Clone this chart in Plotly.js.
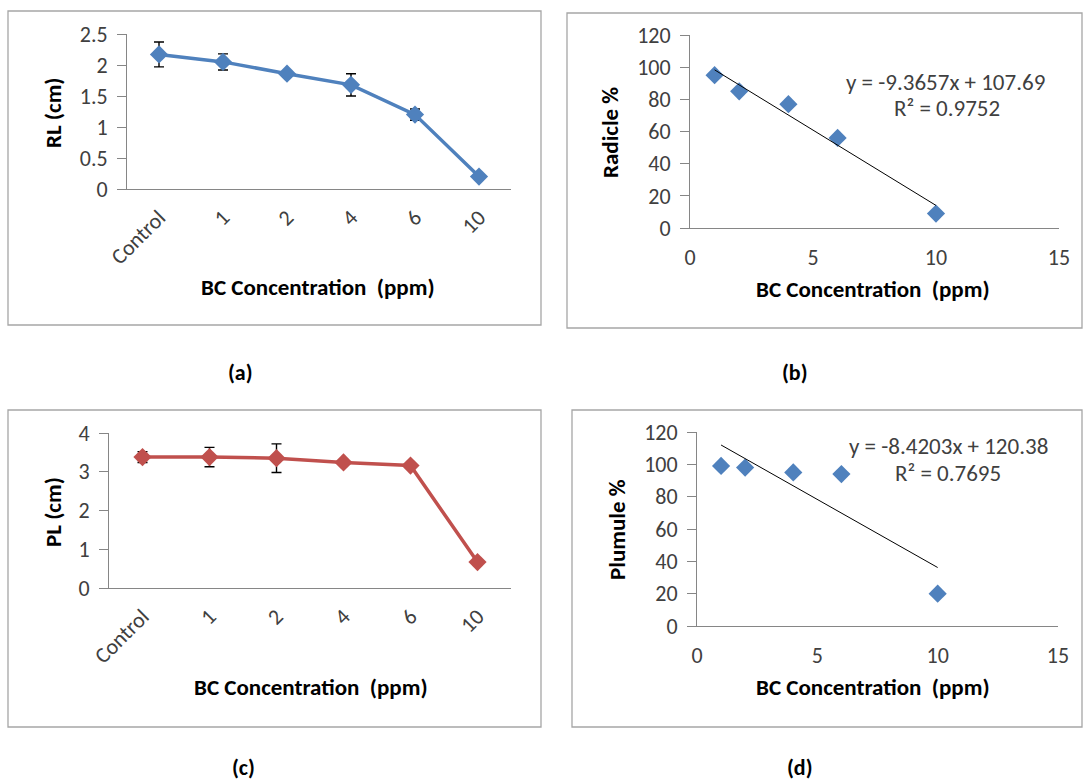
<!DOCTYPE html>
<html>
<head>
<meta charset="utf-8">
<script src="https://cdn.plot.ly/plotly-3.0.1.min.js"></script>
<style>
  html, body { margin: 0; padding: 0; background: #ffffff; }
  #chart { width: 1084px; height: 781px; }
</style>
</head>
<body>
<div id="chart"></div>
<script>
// ---------- data ----------
const categories = ["Control", "1", "2", "4", "6", "10"];
const rlValues = [2.17, 2.05, 1.86, 1.68, 1.20, 0.20];
const rlErrors = [0.20, 0.13, 0.05, 0.18, 0.09, 0.03];
const plValues = [3.38, 3.38, 3.35, 3.24, 3.16, 0.67];
const plErrors = [0.14, 0.25, 0.37, 0.03, 0.05, 0.02];

const concentrations = [1, 2, 4, 6, 10];
const radiclePct = [95, 85, 77, 56, 9];
const plumulePct = [99, 98, 95, 94, 20];

// trendline coefficients as printed on the chart
const radicleSlope = -9.3657, radicleIntercept = 107.69, radicleR2 = "0.9752";
const plumuleSlope = -8.4203, plumuleIntercept = 120.38, plumuleR2 = "0.7695";

const xTitle = "BC Concentration  (ppm)";

// ---------- helpers ----------
const W = 1084, H = 781;
const px = x => x / W;
const py = y => 1 - y / H;
const FONT = "Carlito, Lato, 'Open Sans', sans-serif";
const TXT = "#404040";
const AXC = "#868686";
const BLUE = "#4F81BD";
const RED = "#C0504D";

function trendX(xs) { return [Math.min(...xs), Math.max(...xs)]; }
function trendY(xs, m, b) { return trendX(xs).map(x => m * x + b); }

const MS = 14;
const traces = [
  {
    type: "scatter", mode: "lines+markers", x: categories, y: rlValues,
    xaxis: "x", yaxis: "y",
    line: { color: BLUE, width: 3.5 },
    marker: { symbol: "diamond", size: MS, color: BLUE },
    error_y: { type: "data", array: rlErrors, visible: true, color: "#000000", thickness: 1.4, width: 5 }
  },
  {
    type: "scatter", mode: "markers", x: concentrations, y: radiclePct,
    xaxis: "x2", yaxis: "y2",
    marker: { symbol: "diamond", size: MS, color: BLUE }
  },
  {
    type: "scatter", mode: "lines", x: trendX(concentrations),
    y: trendY(concentrations, radicleSlope, radicleIntercept),
    xaxis: "x2", yaxis: "y2",
    line: { color: "#000000", width: 1 }
  },
  {
    type: "scatter", mode: "lines+markers", x: categories, y: plValues,
    xaxis: "x3", yaxis: "y3",
    line: { color: RED, width: 3.5 },
    marker: { symbol: "diamond", size: MS, color: RED },
    error_y: { type: "data", array: plErrors, visible: true, color: "#000000", thickness: 1.4, width: 5 }
  },
  {
    type: "scatter", mode: "markers", x: concentrations, y: plumulePct,
    xaxis: "x4", yaxis: "y4",
    marker: { symbol: "diamond", size: MS, color: BLUE }
  },
  {
    type: "scatter", mode: "lines", x: trendX(concentrations),
    y: trendY(concentrations, plumuleSlope, plumuleIntercept),
    xaxis: "x4", yaxis: "y4",
    line: { color: "#000000", width: 1 }
  }
];

const tickFont = { family: FONT, size: 22, color: TXT };
const eqFont = { family: FONT, size: 23, color: TXT };

function catAxis(domain, anchor) {
  return {
    domain: domain, anchor: anchor, type: "category", range: [-0.5, 5.5],
    showline: true, linecolor: AXC, linewidth: 1, showgrid: false, zeroline: false,
    ticks: "", tickangle: -45, tickfont: tickFont, ticklabelstandoff: 6, fixedrange: true
  };
}
function numXAxis(domain, anchor) {
  return {
    domain: domain, anchor: anchor, range: [0, 15], dtick: 5, tick0: 0,
    showline: true, linecolor: AXC, linewidth: 1, showgrid: false, zeroline: false,
    ticks: "", tickfont: tickFont, ticklabelstandoff: 10, fixedrange: true
  };
}
function yAxis(domain, anchor, range, dtick) {
  return {
    domain: domain, anchor: anchor, range: range, dtick: dtick, tick0: 0,
    showline: true, linecolor: AXC, linewidth: 1, showgrid: false, zeroline: false,
    ticks: "outside", ticklen: 9, tickcolor: AXC, tickfont: tickFont,
    ticklabelstandoff: 5, fixedrange: true
  };
}

const frames = [
  [8, 11, 541, 325], [567, 13, 1082, 328],
  [8, 410, 541, 727], [572, 410, 1082, 727]
].map(r => ({
  type: "rect", xref: "paper", yref: "paper",
  x0: px(r[0]), x1: px(r[2]), y0: py(r[3]), y1: py(r[1]),
  line: { color: "#A6A6A6", width: 1.3 }, fillcolor: "rgba(0,0,0,0)"
}));

function ann(text, x, y, opts) {
  return Object.assign({
    text: text, xref: "paper", yref: "paper", x: px(x), y: py(y),
    xanchor: "center", yanchor: "middle", showarrow: false,
    font: { family: FONT, size: 21, color: "#000000" }
  }, opts || {});
}
const boldTitle = { family: FONT, size: 23, color: "#000000" };
const panelFont = { family: FONT, size: 22, color: "#000000" };

const annotations = [
  // axis titles
  ann("<b>RL (cm)</b>", 53, 113, { textangle: -90, font: boldTitle }),
  ann("<b>" + xTitle + "</b>", 318, 287, { font: boldTitle }),
  ann("<b>Radicle %</b>", 610, 133, { textangle: -90, font: boldTitle }),
  ann("<b>" + xTitle + "</b>", 873, 289, { font: boldTitle }),
  ann("<b>PL (cm)</b>", 53, 512, { textangle: -90, font: boldTitle }),
  ann("<b>" + xTitle + "</b>", 311, 687, { font: boldTitle }),
  ann("<b>Plumule %</b>", 617, 530, { textangle: -90, font: boldTitle }),
  ann("<b>" + xTitle + "</b>", 873, 687, { font: boldTitle }),
  // trendline equations
  ann("y = " + radicleSlope + "x + " + radicleIntercept, 945, 82, { font: eqFont }),
  ann("R² = " + radicleR2, 947, 108, { font: eqFont }),
  ann("y = " + plumuleSlope + "x + " + plumuleIntercept, 948, 446, { font: eqFont }),
  ann("R² = " + plumuleR2, 948, 473, { font: eqFont }),
  // panel labels
  ann("<b>(a)</b>", 241, 372, { font: panelFont }),
  ann("<b>(b)</b>", 795, 372, { font: panelFont }),
  ann("<b>(c)</b>", 243, 767, { font: panelFont }),
  ann("<b>(d)</b>", 800, 767, { font: panelFont })
];

const layout = {
  width: W, height: H,
  margin: { l: 0, r: 0, t: 0, b: 0 },
  paper_bgcolor: "#ffffff", plot_bgcolor: "rgba(0,0,0,0)",
  showlegend: false,
  xaxis: catAxis([px(127), px(511)], "y"),
  yaxis: yAxis([py(189), py(34)], "x", [0, 2.5], 0.5),
  xaxis2: numXAxis([px(690), px(1059)], "y2"),
  yaxis2: yAxis([py(228), py(35)], "x2", [0, 120], 20),
  xaxis3: catAxis([px(109), px(511)], "y3"),
  yaxis3: yAxis([py(588), py(433)], "x3", [0, 4], 1),
  xaxis4: numXAxis([px(697), px(1058)], "y4"),
  yaxis4: yAxis([py(626), py(432)], "x4", [0, 120], 20),
  shapes: frames,
  annotations: annotations
};

layout.yaxis.tickformat = ".1~f";

Plotly.newPlot("chart", traces, layout, { staticPlot: true, displayModeBar: false });
</script>
</body>
</html>
